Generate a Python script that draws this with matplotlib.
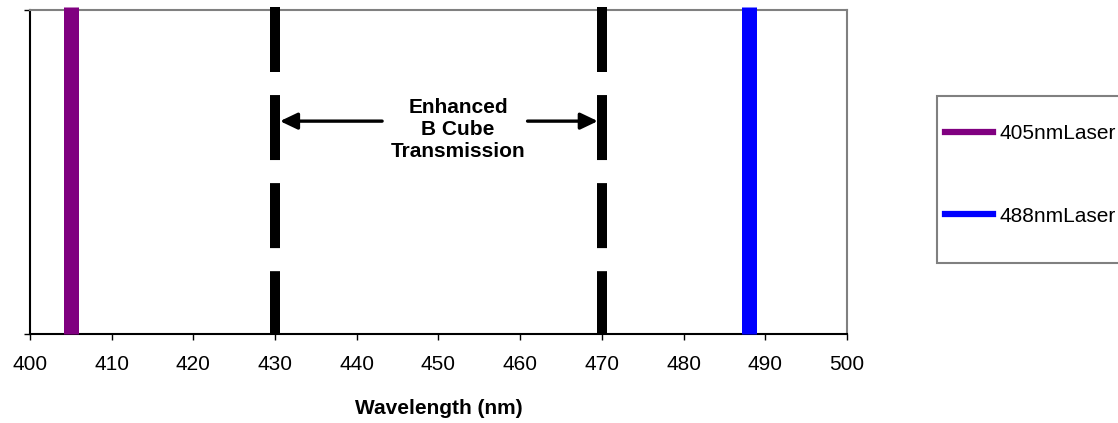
import matplotlib
matplotlib.use("Agg")
import matplotlib.pyplot as plt
from matplotlib.patches import Rectangle

plt.rcParams['font.family'] = ['Liberation Sans', 'DejaVu Sans']
plt.rcParams['lines.scale_dashes'] = False

# laser lines (nm) and their colours
laser_nm     = [405, 488]
laser_labels = ['405nmLaser', '488nmLaser']
laser_colors = ['#800080', '#0000FF']

# enhanced B cube transmission band edges (nm)
band_edges = [430, 470]
band_text  = 'Enhanced\nB Cube\nTransmission'

xticks = list(range(400, 501, 10))

W, H = 1118, 423
fig = plt.figure(figsize=(W / 100, H / 100), dpi=100)
ax = fig.add_axes([30 / W, 1 - 334 / H, 817 / W, 324 / H])

# band edges as thick dashed black lines
for edge in band_edges:
    ax.plot([edge, edge], [1.01, 0], color='black', lw=7.2,
            linestyle=(0, (46.8, 16.6)), dash_capstyle='butt',
            clip_on=False, zorder=3)

# laser lines
for nm, lab, col in zip(laser_nm, laser_labels, laser_colors):
    ax.plot([nm, nm], [0, 1.008], color=col, lw=10.8,
            solid_capstyle='butt', clip_on=False, label=lab, zorder=4)

# arrows pointing at the band edges
arrow_y = 0.657
mid = (band_edges[0] + band_edges[1]) / 2
ap = dict(arrowstyle='-|>,head_length=1.05,head_width=0.5', color='black',
          lw=2.4, shrinkA=0, shrinkB=0)
ax.annotate('', xy=(band_edges[0] + 0.6, arrow_y), xytext=(mid - 6.9, arrow_y),
            arrowprops=ap)
ax.annotate('', xy=(band_edges[1] - 0.5, arrow_y), xytext=(mid + 10.9, arrow_y),
            arrowprops=ap)
ax.text(mid + 2.4, 0.632, band_text, ha='center', va='center',
        fontsize=15, fontweight='bold', linespacing=1.2)

ax.set_xlim(400, 500)
ax.set_ylim(0, 1)
ax.set_xticks(xticks)
ax.set_yticks([0, 1])
ax.set_yticklabels([])
ax.tick_params(axis='both', direction='out', length=4.3, width=1, colors='black',
               labelsize=15)
ax.tick_params(axis='x', pad=11)
ax.set_xlabel('Wavelength (nm)', fontsize=15, fontweight='bold', labelpad=18)

for side in ['top', 'right']:
    ax.spines[side].set_color('#808080')
    ax.spines[side].set_linewidth(1.5)
for side in ['left', 'bottom']:
    ax.spines[side].set_color('black')
    ax.spines[side].set_linewidth(1.5)

# legend box running off the right edge, like the original
fig.patches.append(Rectangle((937 / W, 1 - 263 / H), 300 / W, 167 / H,
                             transform=fig.transFigure, facecolor='white',
                             edgecolor='#808080', lw=1.5, clip_on=False))
leg_handles = [plt.Line2D([], [], color=c, lw=4.5) for c in laser_colors]
fig.legend(leg_handles, laser_labels, loc='upper left',
           bbox_to_anchor=(945 / W, 1 - 124 / H), frameon=False, fontsize=15,
           handlelength=2.3, handletextpad=0.3, labelspacing=3.05,
           borderpad=0, borderaxespad=0, handleheight=0.7)

fig.savefig('out.png', dpi=100)
